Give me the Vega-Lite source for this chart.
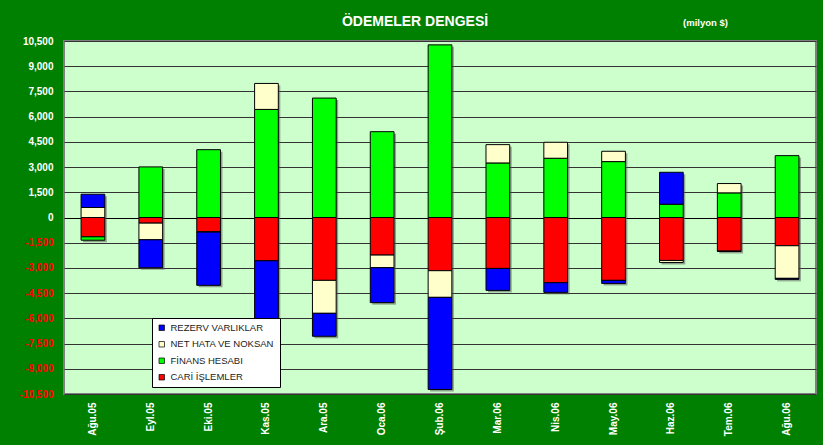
{
  "$schema": "https://vega.github.io/schema/vega-lite/v6.json",
  "width": 752,
  "height": 353,
  "autosize": {"type": "none"},
  "padding": {"left": 64, "top": 41, "right": 7, "bottom": 51},
  "background": "#008000",
  "config": {
    "font": "Liberation Sans",
    "view": {"fill": "#CCFFCC", "stroke": "#808080", "strokeWidth": 2}
  },
  "title": {
    "text": "ÖDEMELER DENGESİ",
    "anchor": "middle",
    "frame": "group",
    "dx": -25,
    "offset": 0,
    "dy": 12,
    "fontSize": 14,
    "fontWeight": "bold",
    "color": "white",
    "font": "Liberation Sans"
  },
  "data": {
    "values": [
      {"ay": "Ağu.05", "seri": "CARİ İŞLEMLER", "deger": -1150},
      {"ay": "Ağu.05", "seri": "FİNANS HESABI", "deger": -200},
      {"ay": "Ağu.05", "seri": "NET HATA VE NOKSAN", "deger": 595},
      {"ay": "Ağu.05", "seri": "REZERV VARLIKLAR", "deger": 790},
      {"ay": "Eyl.05", "seri": "CARİ İŞLEMLER", "deger": -335},
      {"ay": "Eyl.05", "seri": "FİNANS HESABI", "deger": 3010},
      {"ay": "Eyl.05", "seri": "NET HATA VE NOKSAN", "deger": -990},
      {"ay": "Eyl.05", "seri": "REZERV VARLIKLAR", "deger": -1665},
      {"ay": "Eki.05", "seri": "CARİ İŞLEMLER", "deger": -850},
      {"ay": "Eki.05", "seri": "FİNANS HESABI", "deger": 4035},
      {"ay": "Eki.05", "seri": "NET HATA VE NOKSAN", "deger": -20},
      {"ay": "Eki.05", "seri": "REZERV VARLIKLAR", "deger": -3165},
      {"ay": "Kas.05", "seri": "CARİ İŞLEMLER", "deger": -2575},
      {"ay": "Kas.05", "seri": "FİNANS HESABI", "deger": 6430},
      {"ay": "Kas.05", "seri": "NET HATA VE NOKSAN", "deger": 1545},
      {"ay": "Kas.05", "seri": "REZERV VARLIKLAR", "deger": -5400},
      {"ay": "Ara.05", "seri": "CARİ İŞLEMLER", "deger": -3740},
      {"ay": "Ara.05", "seri": "FİNANS HESABI", "deger": 7105},
      {"ay": "Ara.05", "seri": "NET HATA VE NOKSAN", "deger": -1960},
      {"ay": "Ara.05", "seri": "REZERV VARLIKLAR", "deger": -1365},
      {"ay": "Oca.06", "seri": "CARİ İŞLEMLER", "deger": -2235},
      {"ay": "Oca.06", "seri": "FİNANS HESABI", "deger": 5105},
      {"ay": "Oca.06", "seri": "NET HATA VE NOKSAN", "deger": -750},
      {"ay": "Oca.06", "seri": "REZERV VARLIKLAR", "deger": -2080},
      {"ay": "Şub.06", "seri": "CARİ İŞLEMLER", "deger": -3165},
      {"ay": "Şub.06", "seri": "FİNANS HESABI", "deger": 10270},
      {"ay": "Şub.06", "seri": "NET HATA VE NOKSAN", "deger": -1585},
      {"ay": "Şub.06", "seri": "REZERV VARLIKLAR", "deger": -5480},
      {"ay": "Mar.06", "seri": "CARİ İŞLEMLER", "deger": -3030},
      {"ay": "Mar.06", "seri": "FİNANS HESABI", "deger": 3245},
      {"ay": "Mar.06", "seri": "NET HATA VE NOKSAN", "deger": 1090},
      {"ay": "Mar.06", "seri": "REZERV VARLIKLAR", "deger": -1305},
      {"ay": "Nis.06", "seri": "CARİ İŞLEMLER", "deger": -3880},
      {"ay": "Nis.06", "seri": "FİNANS HESABI", "deger": 3525},
      {"ay": "Nis.06", "seri": "NET HATA VE NOKSAN", "deger": 950},
      {"ay": "Nis.06", "seri": "REZERV VARLIKLAR", "deger": -575},
      {"ay": "May.06", "seri": "CARİ İŞLEMLER", "deger": -3740},
      {"ay": "May.06", "seri": "FİNANS HESABI", "deger": 3325},
      {"ay": "May.06", "seri": "NET HATA VE NOKSAN", "deger": 615},
      {"ay": "May.06", "seri": "REZERV VARLIKLAR", "deger": -180},
      {"ay": "Haz.06", "seri": "CARİ İŞLEMLER", "deger": -2555},
      {"ay": "Haz.06", "seri": "FİNANS HESABI", "deger": 790},
      {"ay": "Haz.06", "seri": "NET HATA VE NOKSAN", "deger": -120},
      {"ay": "Haz.06", "seri": "REZERV VARLIKLAR", "deger": 1900},
      {"ay": "Tem.06", "seri": "CARİ İŞLEMLER", "deger": -2000},
      {"ay": "Tem.06", "seri": "FİNANS HESABI", "deger": 1465},
      {"ay": "Tem.06", "seri": "NET HATA VE NOKSAN", "deger": 555},
      {"ay": "Tem.06", "seri": "REZERV VARLIKLAR", "deger": -20},
      {"ay": "Ağu.06", "seri": "CARİ İŞLEMLER", "deger": -1680},
      {"ay": "Ağu.06", "seri": "FİNANS HESABI", "deger": 3680},
      {"ay": "Ağu.06", "seri": "NET HATA VE NOKSAN", "deger": -1940},
      {"ay": "Ağu.06", "seri": "REZERV VARLIKLAR", "deger": -60}
    ]
  },
  "encoding": {
    "x": {
      "field": "ay",
      "type": "nominal",
      "sort": null,
      "scale": {"paddingInner": 0.59, "paddingOuter": 0.295},
      "axis": {
        "title": null,
        "labelAngle": -90,
        "labelColor": "white",
        "labelFontWeight": "bold",
        "labelFontSize": 10,
        "labelPadding": 8,
        "ticks": false,
        "domain": false
      }
    },
    "y": {
      "field": "deger",
      "type": "quantitative",
      "stack": "zero",
      "scale": {"domain": [-10500, 10500], "nice": false, "zero": false},
      "axis": {
        "title": "(milyon $)",
        "titleAngle": 0,
        "titleX": 641,
        "titleY": -19,
        "titleAlign": "center",
        "titleBaseline": "middle",
        "titleColor": "white",
        "titleFontSize": 9.5,
        "titleFontWeight": "bold",
        "values": [-10500, -9000, -7500, -6000, -4500, -3000, -1500, 0, 1500, 3000, 4500, 6000, 7500, 9000, 10500],
        "format": ",.0f",
        "labelExpr": "replace(datum.label, '−', '-')",
        "labelOverlap": false,
        "labelColor": {"condition": {"test": "datum.value < 0", "value": "#FF0000"}, "value": "white"},
        "labelFontWeight": "bold",
        "labelFontSize": 10,
        "labelPadding": 11,
        "ticks": false,
        "domain": false,
        "grid": true,
        "gridColor": {"condition": {"test": "datum.value === 0", "value": "#000000"}, "value": "#333333"},
        "gridWidth": 1,
        "gridOpacity": 1
      }
    },
    "order": {"field": "seri", "type": "nominal", "sort": "ascending"}
  },
  "layer": [
    {
      "mark": {"type": "bar", "xOffset": 2, "yOffset": 2, "opacity": 0.55},
      "encoding": {"color": {"value": "#555555"}}
    },
    {
      "mark": {"type": "bar", "stroke": "black", "strokeWidth": 1},
      "encoding": {
        "color": {
          "field": "seri",
          "type": "nominal",
          "scale": {
            "domain": ["REZERV VARLIKLAR", "NET HATA VE NOKSAN", "FİNANS HESABI", "CARİ İŞLEMLER"],
            "range": ["#0000FF", "#FFFFCC", "#00FF00", "#FF0000"]
          },
          "legend": {
            "title": null,
            "orient": "none",
            "legendX": 88,
            "legendY": 277,
            "fillColor": "white",
            "strokeColor": "#000000",
            "padding": 5,
            "rowPadding": 5.5,
            "symbolType": "square",
            "symbolSize": 30,
            "symbolStrokeColor": "black",
            "symbolStrokeWidth": 0.7,
            "labelFontSize": 9.5,
            "labelColor": "#222222",
            "labelOffset": 4
          }
        }
      }
    }
  ]
}
